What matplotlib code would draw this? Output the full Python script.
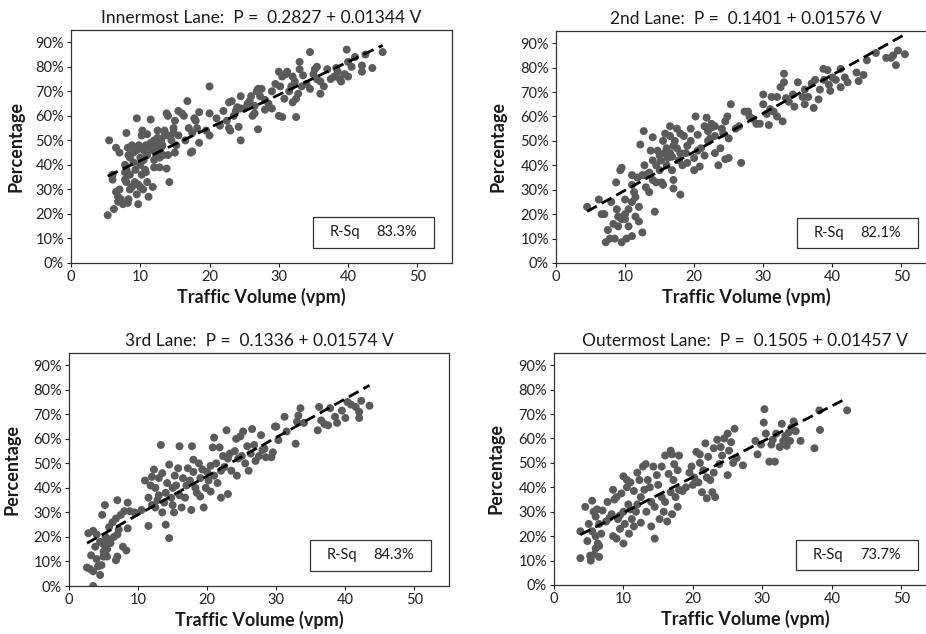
import matplotlib
matplotlib.use("Agg")
import matplotlib.pyplot as plt
from matplotlib.patches import Rectangle
import numpy as np

plt.rcParams['font.family'] = ['Lato', 'DejaVu Sans']

# ---------------- data ----------------
titles = ["Innermost Lane:  P =  0.2827 + 0.01344 V",
          "2nd Lane:  P =  0.1401 + 0.01576 V",
          "3rd Lane:  P =  0.1336 + 0.01574 V",
          "Outermost Lane:  P =  0.1505 + 0.01457 V"]
intercepts = [0.2827, 0.1401, 0.1336, 0.1505]
slopes = [0.01344, 0.01576, 0.01574, 0.01457]
rsq_labels = ["83.3%", "82.1%", "84.3%", "73.7%"]

lane1_v = [5.3, 5.5, 6, 6, 6.2, 6.5, 6.5, 6.8, 7, 7, 6.8, 7.2, 7.5, 7.8, 7.8, 7.8, 8, 8, 8, 8.2, 8.3, 8.5, 8.5, 8.3, 8.2,
           8.5, 8.8, 8.8, 9, 9, 9.2, 9.3, 9.5, 9.5, 9.5, 9.7, 9.7, 9.8, 10, 10, 10, 10.2, 10.2, 10.3, 10.4, 10.5, 10.5,
           10.7, 10.8, 10.8, 11, 11, 11.2, 11, 11.2, 11.5, 11.5, 11.8, 11.8, 12, 12, 12, 12.2, 12.3, 12.5, 12.5, 12.7,
           12.8, 12.8, 13, 13, 13.2, 13.3, 13.5, 13.5, 13.8, 13.8, 14, 14, 14, 14.2, 14.5, 14.8, 14.8, 15, 15, 15.2,
           15.5, 15.5, 16, 16.3, 16.5, 16.8, 17, 17.3, 17.5, 17.5, 17.8, 18, 18.2, 18.5, 18.5, 19.5, 20, 20, 20, 21,
           21.5, 22, 22.5, 22.8, 22.8, 23, 23.2, 23.5, 23.8, 24, 24.2, 24.5, 24.5, 24.5, 25, 25.5, 25.8, 26, 26.2,
           26.5, 26.5, 26.8, 27, 27, 27.3, 27.5, 28, 28, 28.5, 29, 29, 29.5, 30, 30, 30.2, 30.5, 30.5, 30.8, 31, 31.2,
           31.5, 31.8, 32, 32, 32.3, 32.5, 32.5, 32.8, 33, 33, 33.3, 33.5, 34, 34.5, 34.5, 35, 35.2, 35.5, 35.5, 36,
           36, 36.5, 37, 37.5, 38, 38.3, 38.5, 38.8, 39, 39.5, 39.8, 40, 40, 40.5, 41, 42, 42, 42.5, 43.5, 45]
lane1_p = [19.5, 50, 36, 34, 22, 47, 29, 27, 30, 45, 25, 26, 24, 40, 37, 34, 33, 38, 53, 47, 44, 43, 30, 26, 24.5,
           36, 31, 48, 45, 41, 33, 38, 46, 28, 59, 24, 32, 48, 43, 40, 31, 36, 52, 54, 30, 46, 42,
           38, 48, 37, 44, 33, 47, 52.5, 27, 58.5, 49, 31, 46, 50, 42, 39, 48.5, 44, 51, 54, 46,
           43, 39, 50, 47, 48, 44, 54, 52, 61, 38.5, 60, 52, 44, 33, 50, 55, 53, 58, 45, 48,
           52, 62, 61, 60, 50, 66, 55, 45, 45.5, 53, 59, 58, 55, 49, 61.5, 54, 61, 72, 52, 59,
           56, 62, 58, 55, 65.5, 54, 66, 60, 62, 63.5, 55.5, 63, 68, 50, 63, 65, 66, 68, 60,
           64, 61, 70, 71, 54.5, 68, 71, 66.5, 62.5, 65, 63, 70, 73, 78, 60, 72, 59.5, 76, 67, 77, 78,
           70, 72, 76, 65.5, 74, 67, 59.5, 69, 82, 79, 72, 76.5, 73, 86, 71, 77, 79, 80, 75, 69,
           74, 72, 79, 75, 76, 79.5, 78, 75, 74, 77, 87, 82, 76, 80, 84, 78, 80.5, 85, 79.5, 86]

lane2_v = [4.5, 6.2, 6.6, 7, 7.2, 7.5, 7.8, 8, 8.3, 8.5, 8.7, 8.8, 9, 9, 9.3, 9.5, 9.5, 9.5, 10, 10, 10, 10.2, 10.5,
           10.5, 11, 11, 11, 11, 11.3, 11.5, 11.5, 11.8, 12, 12, 12.2, 12.5, 12.5, 12.7, 12.8, 13, 13, 13.5, 13.5,
           13.7, 14, 14, 14, 14.3, 14.5, 14.5, 14.7, 15, 15, 15.2, 15.3, 15.5, 15.5, 15.7, 15.8, 16, 16, 16.2, 16.5,
           16.5, 16.5, 16.8, 16.8, 17, 17, 17, 17.2, 17.5, 17.5, 17.8, 18, 18, 18, 18.3, 18.5, 18.8, 19, 19, 19.5,
           19.5, 20, 20, 20.2, 20.5, 20.5, 20.8, 21, 21.5, 21.5, 21.8, 22, 22, 22.3, 22.5, 22.5, 23, 23, 23, 23.5,
           23.8, 24, 24.2, 24.5, 24.5, 24.8, 25, 25, 25.3, 26, 26.5, 26.8, 27.3, 27.8, 28, 28.5, 29, 29.5, 30, 30,
           30.5, 30.8, 31, 31.2, 31.5, 32, 32, 32.5, 32.8, 33, 33, 33.3, 33.7, 34.3, 34.5, 35, 35.7, 36, 36, 36.5,
           37, 37.3, 37.5, 38, 38.2, 38.7, 38.8, 39.3, 39.5, 39.7, 40, 40.5, 41.2, 41.2, 41.8, 42.2, 43.5, 43.8,
           44.5, 45, 46.3, 47.8, 48.5, 48.8, 49.2, 49.5, 50.5]
lane2_p = [23, 26, 20, 20, 8.5, 13.5, 10, 25, 16, 10, 33, 22, 15, 19, 38, 18, 8.5, 39, 26, 18, 20, 10, 15,
           22, 25, 36, 11, 32, 29, 19, 27, 35, 23, 17, 48.5, 36, 12.5, 54, 40, 36, 31, 37, 29,
           46, 34, 42, 51.5, 21, 33, 40, 46, 38, 44, 42, 33, 50, 32, 45, 53, 47, 40, 43, 56,
           52, 45, 38, 43.5, 48, 34, 30.5, 50, 55, 47, 42, 28, 53, 45, 40, 52, 45, 48, 41, 50,
           55, 38, 43, 60, 46, 52.5, 39.5, 47, 56, 44, 59.5, 54, 50, 51, 57, 55.5, 52, 56, 45, 40,
           47, 55, 53, 42.5, 58, 60, 51, 43, 65, 55, 56, 41, 62, 62, 60, 59, 57, 57, 69, 65,
           61, 56.5, 63, 68, 62, 68, 60, 72, 58, 77.5, 74, 67.5, 66, 69, 64, 74, 68, 71, 65, 68,
           73.5, 63.5, 75, 67, 71, 79.5, 75, 79, 73, 70.5, 76, 75, 72, 79.5, 76, 74, 78, 74.5,
           77, 83, 86, 84, 84, 85, 81, 87, 85.5]

lane3_v = [2.6, 2.8, 3, 3.2, 3.5, 3.5, 3.5, 3.8, 4, 4, 4.2, 4.5, 4.5, 4.7, 4.8, 5, 5, 5, 5.2, 5.3, 5.5, 5.5, 5.7,
           5.8, 6, 6.3, 6.5, 6.8, 6.8, 7, 7, 7, 7.2, 7.5, 7.8, 8, 8.3, 8.5, 8.5, 8.8, 9.5, 10.5, 11, 11.5, 11.5,
           11.8, 12, 12, 12.3, 12.5, 12.5, 12.8, 13, 13, 13.3, 13.5, 13.5, 13.8, 14, 14, 14.2, 14.5, 14.5, 14.8, 15,
           15, 15.2, 15.3, 15.5, 15.8, 16, 16, 16.3, 16.5, 16.8, 17, 17.2, 17.5, 17.7, 17.8, 18, 18, 18.3, 18.5,
           18.8, 19, 19, 19.3, 19.5, 19.8, 20, 20.2, 20.5, 20.5, 20.8, 21, 21, 21.3, 21.5, 21.8, 22, 22, 22.3, 22.5,
           22.8, 23, 23, 23.3, 23.5, 24, 24.2, 24.3, 24.5, 24.8, 25, 25.2, 25.5, 25.8, 26, 26.3, 26.5, 26.8, 27,
           27.5, 27.8, 28, 28.3, 28.5, 29.3, 29.5, 29.8, 30, 30.3, 31.2, 31.5, 32.8, 33, 33.2, 33.5, 34, 36, 36.2,
           36.5, 37, 37.5, 37.8, 38.5, 38.8, 39.5, 40, 40.3, 40.8, 41.5, 42, 42, 42.3, 43.5]
lane3_p = [7.5, 21.5, 7, 12.5, 0, 6, 22.5, 16, 21, 11, 8, 4.5, 18, 8.5, 29, 14, 12, 17, 33, 20, 15, 12, 19,
           24, 17.5, 26, 20, 27.5, 10.5, 35, 21, 12, 23, 29, 16, 30.5, 14.5, 34, 23.5, 30.5, 30, 31, 43, 24.5, 36,
           41, 33, 44.5, 47.5, 40, 32, 35, 44, 37, 57.5, 46, 30, 34, 25, 38, 42, 49.5, 19.5, 36, 40,
           33, 30, 45, 41, 48, 37, 57, 32, 44, 36, 41, 48, 43, 31, 57, 46.5, 51.5, 40, 38,
           50, 44, 36.5, 47.5, 32, 40, 46.5, 43, 49, 38.5, 56.5, 45, 60.5, 50, 42, 56.5, 36, 47, 53, 48.5,
           63.5, 37.5, 52, 54, 47, 55, 60, 45, 52, 61, 53, 63, 50, 57, 47, 54, 64, 57.5, 51,
           53, 61.5, 55.5, 56, 52.5, 52.5, 54.5, 65, 65, 59.5, 69, 63, 58, 67, 69.5, 72.5, 66.5, 63.5, 73,
           67.5, 66, 65.5, 72.5, 69, 66.5, 71.5, 68.5, 75, 74, 73, 71, 68.5, 75.5, 73.5]

lane4_v = [3.8, 3.8, 4.5, 4.8, 5, 5.2, 5.3, 5.5, 5.5, 5.7, 5.8, 6, 6, 6, 6.2, 6.3, 6.5, 6.5, 6.5, 6.8, 7, 7.5, 7.7,
           8, 8.3, 8.5, 8.5, 8.7, 9, 9, 9.2, 9.5, 9.5, 9.7, 10, 10, 10, 10.2, 10.5, 10.5, 10.7, 10.8, 11, 11, 11.2,
           11.5, 11.5, 11.8, 12, 12, 12.3, 12.5, 12.5, 12.8, 13, 13.2, 13.3, 13.5, 13.8, 14, 14, 14.3, 14.5, 14.5,
           14.8, 15, 15.2, 15.5, 15.8, 15.5, 16, 16, 16.3, 16.5, 16.8, 16.8, 17, 17, 17.2, 17.3, 17.5, 17.8, 17.8,
           18, 18, 18.5, 19, 19.5, 19.8, 20, 20.2, 20.5, 20.8, 21, 21, 21.3, 21.5, 21.8, 22, 22, 22.2, 22.5, 22.8,
           23, 23, 23.2, 23.5, 23.8, 24, 24.2, 24.5, 25, 25, 25.2, 25.5, 25.8, 26, 26.3, 27.2, 29, 29.3, 29.8, 30.2,
           30.3, 30.5, 31, 31.3, 31.5, 31.8, 32, 32.5, 32.8, 33, 33.3, 33.5, 33.8, 34, 34.2, 34.5, 34.8, 35.5, 37.5,
           38.2, 38.3, 42.2]
lane4_p = [11, 22, 32, 18, 25, 12, 10, 34.5, 22, 30, 12.5, 28, 20, 15, 31, 17, 25, 11.5, 16, 21, 30.5, 26, 34,
           27.5, 29, 39, 20, 35, 36, 19, 27, 28.5, 23, 37.5, 44.5, 30, 17, 25, 43, 40, 33, 21, 31, 42, 27,
           38.5, 24, 30, 46, 33, 43, 25.5, 36, 48.5, 39, 49.5, 30, 43, 40, 24, 34, 48.5, 19, 32,
           45, 41, 27, 36, 30, 48.5, 53, 34, 26, 45.5, 55, 38, 29, 53.5, 43, 49.5, 36, 32, 47,
           53, 39, 38.5, 40, 46, 48.5, 41, 44, 54.5, 42, 50, 53.5, 38, 47, 58, 44, 35.5, 52.5, 43, 38,
           56, 46, 36, 59.5, 49.5, 56.5, 53, 60, 62, 45, 55, 58.5, 50, 64, 52, 49, 59, 53.5, 57.5, 66.5,
           72, 62, 50.5, 57.5, 59.5, 50.5, 62, 56.5, 66, 59, 61, 57, 62.5, 59, 64.5, 67, 63, 59, 56,
           71.5, 63.5, 71.5]

volumes = [lane1_v, lane2_v, lane3_v, lane4_v]
percents = [lane1_p, lane2_p, lane3_p, lane4_p]

# ---------------- layout (pixels) ----------------
W, H = 926, 634
fig = plt.figure(figsize=(W / 100, H / 100), dpi=100)
# left, bottom(px from top), width, height
boxes = [(71, 263, 381, 233), (556, 263, 380, 232), (69, 586, 380, 233), (554, 585, 382, 232)]
ylabel_x = [-0.121, -0.131, -0.127, -0.129]

dot_color = '#5b5b5b'
for i in range(4):
    l, b, w, h = boxes[i]
    ax = fig.add_axes([l / W, (H - b) / H, w / W, h / H])
    v = np.array(volumes[i])
    p = np.array(percents[i])
    ax.scatter(v, p, s=33, color=dot_color, edgecolors='none', zorder=3)
    xs = np.array([v.min(), v.max()])
    ax.plot(xs, (intercepts[i] + slopes[i] * xs) * 100, color='black', lw=2.0,
            linestyle=(0, (4, 2)), zorder=4)
    ax.set_xlim(0, 55)
    ax.set_ylim(0, 95)
    ax.set_xticks([0, 10, 20, 30, 40, 50])
    ax.set_yticks(range(0, 91, 10))
    ax.set_yticklabels([f"{t}%" for t in range(0, 91, 10)])
    ax.tick_params(direction='out', length=3, width=0.8, labelsize=10.5, colors='#222222', pad=2)
    for sp in ax.spines.values():
        sp.set_linewidth(0.9)
        sp.set_color('#333333')
    ax.set_title(titles[i], fontsize=12.5, color='#1a1a1a', pad=5)
    ax.set_xlabel("Traffic Volume (vpm)", fontsize=13, fontweight='bold', color='#1a1a1a', labelpad=3)
    ax.set_ylabel("Percentage", fontsize=13, fontweight='bold', color='#1a1a1a')
    ax.yaxis.set_label_coords(ylabel_x[i], 0.5)
    ax.add_patch(Rectangle((34.9, 6.3), 17.5, 12.3, facecolor='white', edgecolor='#333333', lw=0.9, zorder=5))
    ax.text(39.5, 12.45, "R-Sq", ha='center', va='center', fontsize=10.5, color='#1a1a1a', zorder=6)
    ax.text(47.0, 12.45, rsq_labels[i], ha='center', va='center', fontsize=10.5, color='#1a1a1a', zorder=6)

fig.savefig("out.png", dpi=100)
